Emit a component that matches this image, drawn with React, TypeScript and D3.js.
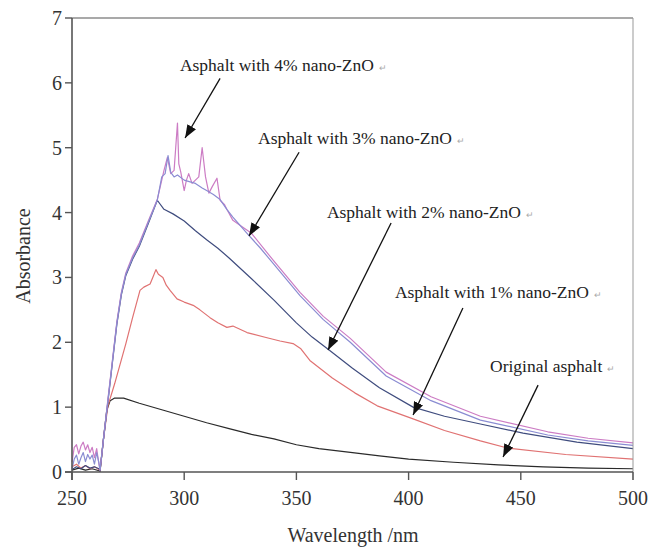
import React from "react";
import * as d3 from "d3";

type Pt = [number, number];

const xTicks = [250, 300, 350, 400, 450, 500];
const yTicks = [0, 1, 2, 3, 4, 5, 6, 7];

const asphalt4: Pt[] = [
  [250, 0.15], [251, 0.38], [252, 0.42], [253, 0.28], [254, 0.4], [255, 0.46], [256, 0.34], [257, 0.42],
  [258, 0.3], [259, 0.38], [260, 0.22], [261, 0.36], [262, 0.12], [262.5, 0.03], [264, 0.5], [266, 1.12],
  [268, 1.72], [270, 2.32], [272, 2.77], [274, 3.07], [277, 3.33], [280, 3.53], [284, 3.87], [288, 4.2],
  [290, 4.5], [291, 4.65], [292.5, 4.85], [294, 4.6], [295.5, 4.65], [297, 5.38], [297.6, 4.75],
  [298.5, 4.62], [300, 4.34], [301, 4.5], [302, 4.6], [303.5, 4.45], [305, 4.5], [306.5, 4.55], [308, 5.0],
  [309.5, 4.55], [311, 4.3], [312.5, 4.4], [314.6, 4.53], [316, 4.19], [318, 4.12], [319, 4.05],
  [321.7, 3.88], [325, 3.8], [330, 3.68], [340, 3.25], [351.6, 2.77], [362, 2.4], [374, 2.06], [390, 1.54],
  [410, 1.16], [432, 0.86], [462, 0.62], [480, 0.52], [500, 0.45],
];

const asphalt3: Pt[] = [
  [250, 0.05], [251, 0.2], [252, 0.26], [253, 0.12], [254, 0.22], [255, 0.3], [256, 0.16], [257, 0.27],
  [258, 0.2], [259, 0.26], [260, 0.12], [261, 0.3], [262, 0.14], [262.5, 0.03], [264, 0.5], [266, 1.1],
  [268, 1.7], [270, 2.3], [272, 2.75], [274, 3.05], [277, 3.3], [280, 3.5], [284, 3.85], [288, 4.19],
  [290, 4.55], [291.5, 4.6], [292.8, 4.88], [294, 4.62], [295.5, 4.55], [297, 4.58], [300, 4.5],
  [303, 4.47], [305, 4.45], [308, 4.38], [310, 4.34], [313, 4.28], [316, 4.2], [319, 4.05], [321.7, 3.93],
  [325, 3.8], [328, 3.68], [334, 3.45], [340, 3.2], [351.6, 2.72], [362, 2.35], [374, 2.0], [390, 1.48],
  [410, 1.1], [432, 0.8], [462, 0.57], [480, 0.48], [500, 0.41],
];

const asphalt2: Pt[] = [
  [250, 0.04], [252, 0.08], [254, 0.05], [256, 0.1], [258, 0.06], [260, 0.08], [262, 0.05], [262.5, 0.02],
  [264, 0.5], [266, 1.08], [268, 1.68], [270, 2.28], [272, 2.73], [274, 3.03], [277, 3.28], [280, 3.48],
  [284, 3.83], [288, 4.19], [291, 4.05], [295, 3.98], [300, 3.87], [305, 3.72], [310, 3.58], [315, 3.45],
  [320, 3.3], [330, 2.98], [340, 2.65], [350, 2.3], [357, 2.08], [365, 1.87], [375, 1.6], [387, 1.3],
  [402, 1.0], [416, 0.86], [432, 0.74], [451, 0.6], [475, 0.46], [500, 0.36],
];

const asphalt1: Pt[] = [
  [250, 0.08], [252, 0.12], [254, 0.06], [256, 0.1], [258, 0.05], [260, 0.08], [262, 0.04], [262.5, 0.02],
  [264, 0.5], [266, 1.02], [269, 1.36], [274, 1.98], [277, 2.38], [280.3, 2.8], [282, 2.85], [284.8, 2.9],
  [286, 3.0], [287.4, 3.12], [288.5, 3.05], [290.5, 3.0], [292, 2.88], [293.7, 2.8], [296.8, 2.67],
  [300, 2.62], [304, 2.57], [307, 2.5], [311.5, 2.38], [315, 2.3], [319, 2.23], [321.7, 2.25], [328, 2.15],
  [336.9, 2.07], [342.7, 2.02], [348.5, 1.98], [352, 1.9], [356, 1.72], [366, 1.45], [376, 1.22],
  [386, 1.02], [402, 0.82], [416, 0.64], [432, 0.48], [444, 0.37], [470, 0.27], [500, 0.2],
];

const original: Pt[] = [
  [250, 0.03], [253, 0.06], [256, 0.03], [259, 0.05], [262, 0.02], [262.5, 0.01], [264, 0.5],
  [265.5, 0.95], [267, 1.1], [269, 1.14], [273, 1.14], [280, 1.06], [290, 0.96], [300, 0.86], [310, 0.76],
  [320, 0.67], [330, 0.58], [340, 0.51], [350, 0.42], [360, 0.36], [375, 0.3], [387, 0.25], [400, 0.2],
  [420, 0.15], [440, 0.11], [460, 0.08], [480, 0.06], [500, 0.05],
];

const seriesNames = [
  "Original asphalt",
  "Asphalt with 1% nano-ZnO",
  "Asphalt with 2% nano-ZnO",
  "Asphalt with 3% nano-ZnO",
  "Asphalt with 4% nano-ZnO",
];
const seriesData = [original, asphalt1, asphalt2, asphalt3, asphalt4];
const seriesColors = ["#2a2a2a", "#e07272", "#3f4c7e", "#8a8cd2", "#cc7cc4"];

// annotations in data space: label anchor, arrow start, arrow tip
const labelPos: Pt[] = [[436.3, 1.54], [393.9, 2.68], [363.6, 3.92], [332.9, 5.06], [298.1, 6.18]];
const arrowFrom: Pt[] = [[457.7, 1.34], [424.2, 2.53], [392.2, 3.84], [351.2, 4.93], [316, 6.07]];
const arrowTo: Pt[] = [[442.1, 0.23], [402, 0.88], [364.1, 1.88], [328.9, 3.64], [300.4, 5.15]];

export default function App() {
  const W = 648, H = 550;
  const x = d3.scaleLinear().domain([250, 500]).range([72, 633]);
  const y = d3.scaleLinear().domain([0, 7]).range([472, 18]);
  const line = d3.line<Pt>().x(d => x(d[0])).y(d => y(d[1]));
  const serif = "'Liberation Serif', 'Times New Roman', serif";
  const drawOrder = [0, 1, 2, 4, 3];

  return (
    <svg width={W} height={H} style={{ position: "absolute", left: 0, top: 0, background: "#fff" }}>
      <defs>
        <marker id="ah" markerUnits="userSpaceOnUse" markerWidth="14" markerHeight="12" refX="13" refY="5" orient="auto">
          <path d="M0,0 L13,5 L0,10 Z" fill="#111" />
        </marker>
      </defs>
      <rect x={0} y={0} width={W} height={H} fill="#fff" />
      {drawOrder.map(i => (
        <path key={i} d={line(seriesData[i]) || ""} fill="none" stroke={seriesColors[i]} strokeWidth={1.2} strokeLinejoin="round" />
      ))}
      {/* frame */}
      <line x1={x(250)} x2={x(500)} y1={y(7)} y2={y(7)} stroke="#555" strokeWidth={1.2} />
      <line x1={x(500)} x2={x(500)} y1={y(7)} y2={y(0) + 8} stroke="#999" strokeWidth={1} />
      <line x1={x(250)} x2={x(250)} y1={y(7)} y2={y(0) + 8} stroke="#555" strokeWidth={1.6} />
      <line x1={x(250) - 7} x2={x(500)} y1={y(0)} y2={y(0)} stroke="#555" strokeWidth={1.6} />
      {yTicks.map(t => (
        <g key={"y" + t}>
          <line x1={x(250) - 7} x2={x(250)} y1={y(t)} y2={y(t)} stroke="#555" strokeWidth={1.4} />
          <text x={x(250) - 10} y={y(t) + 7} textAnchor="end" fontFamily={serif} fontSize={20} fill="#333">{t}</text>
        </g>
      ))}
      {xTicks.map(t => (
        <g key={"x" + t}>
          <line x1={x(t)} x2={x(t)} y1={y(0)} y2={y(0) + 8} stroke="#555" strokeWidth={1.4} />
          <text x={x(t)} y={y(0) + 33} textAnchor="middle" fontFamily={serif} fontSize={20} fill="#333">{t}</text>
        </g>
      ))}
      <text x={353} y={542} textAnchor="middle" fontFamily={serif} fontSize={20} fill="#333">Wavelength /nm</text>
      <text transform={`translate(30,256) rotate(-90)`} textAnchor="middle" fontFamily={serif} fontSize={20} fill="#333">Absorbance</text>
      {seriesNames.map((name, i) => (
        <g key={"a" + i}>
          <line x1={x(arrowFrom[i][0])} y1={y(arrowFrom[i][1])} x2={x(arrowTo[i][0])} y2={y(arrowTo[i][1])}
            stroke="#111" strokeWidth={1.3} markerEnd="url(#ah)" />
          <text x={x(labelPos[i][0])} y={y(labelPos[i][1])} fontFamily={serif} fontSize={17.5} fill="#222">
            {name}
            <tspan dx={5} fontSize={9} fill="#aaa">↵</tspan>
          </text>
        </g>
      ))}
    </svg>
  );
}
